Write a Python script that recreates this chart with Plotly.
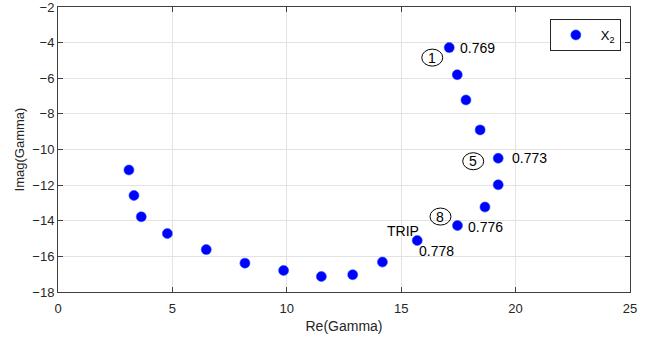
import plotly.graph_objects as go

re_gamma = [17.10, 17.45, 17.83, 18.45, 19.24, 19.24, 18.66, 17.46, 15.70,
            14.18, 12.88, 11.51, 9.86, 8.17, 6.48, 4.78, 3.64, 3.32, 3.10]
im_gamma = [-4.28, -5.80, -7.22, -8.90, -10.49, -11.98, -13.23, -14.27, -15.11,
            -16.32, -17.03, -17.13, -16.79, -16.38, -15.62, -14.72, -13.78, -12.58, -11.15]

# value labels: (point index, text, x shift px, y shift px)
value_labels = [(0, "0.769", 9, 0), (4, "0.773", 12, 0), (7, "0.776", 9, -1), (8, "0.778", 0, -10)]
circled_labels = [(0, "1", -17, -10), (4, "5", -25, -3), (7, "8", -17, 9)]
trip_label = (8, "TRIP", -14, 10)

FONT = "Liberation Sans, Arial, Helvetica, sans-serif"

fig = go.Figure()
fig.add_trace(go.Scatter(
    x=re_gamma, y=im_gamma, mode="markers", name="X<sub>2</sub>",
    marker=dict(color="#0000ff", size=10, line=dict(width=0.6, color="#1a4dff")),
))

annotations = []
shapes = []
for i, t, dx, dy in value_labels:
    annotations.append(dict(x=re_gamma[i], y=im_gamma[i], text=t, showarrow=False,
                            xanchor="left", yanchor="middle", xshift=dx, yshift=dy,
                            font=dict(size=14, color="#000000", family=FONT)))
for i, t, dx, dy in circled_labels:
    annotations.append(dict(x=re_gamma[i], y=im_gamma[i], text=t, showarrow=False,
                            xanchor="center", yanchor="middle", xshift=dx, yshift=dy,
                            font=dict(size=14, color="#000000", family=FONT)))
    shapes.append(dict(type="circle", xref="x", yref="y", xsizemode="pixel", ysizemode="pixel",
                       xanchor=re_gamma[i], yanchor=im_gamma[i],
                       x0=dx - 10.5, x1=dx + 10.5, y0=dy - 8.5, y1=dy + 8.5,
                       line=dict(color="#000000", width=1)))
i, t, dx, dy = trip_label
annotations.append(dict(x=re_gamma[i], y=im_gamma[i], text=t, showarrow=False,
                        xanchor="center", yanchor="middle", xshift=dx, yshift=dy,
                        font=dict(size=14, color="#000000", family=FONT)))

axis_common = dict(
    showline=True, linecolor="#404040", linewidth=1, mirror="ticks",
    ticks="inside", ticklen=5, tickcolor="#404040",
    showgrid=True, gridcolor="#e3e3e3", gridwidth=1, zeroline=False,
    tickfont=dict(size=13, color="#262626", family=FONT),
    ticklabeloverflow="allow", automargin=False,
)

fig.update_layout(
    width=649, height=339,
    margin=dict(l=58, r=19, t=7, b=47),
    paper_bgcolor="white", plot_bgcolor="white",
    font=dict(family=FONT, color="#262626"),
    xaxis=dict(range=[0, 25], tickvals=[0, 5, 10, 15, 20, 25], ticklabelstandoff=4,
               title=dict(text="Re(Gamma)", font=dict(size=14, color="#262626"), standoff=6),
               **axis_common),
    yaxis=dict(range=[-18, -2], tickvals=list(range(-18, -1, 2)),
               title=dict(text="Imag(Gamma)", font=dict(size=13, color="#262626"), standoff=4),
               **axis_common),
    showlegend=True,
    legend=dict(x=0.984, y=0.958, xanchor="right", yanchor="top",
                bordercolor="#262626", borderwidth=1, bgcolor="white",
                font=dict(size=13, color="#000000", family=FONT), itemwidth=40),
    annotations=annotations,
    shapes=shapes,
)

fig.write_html("out.html")
